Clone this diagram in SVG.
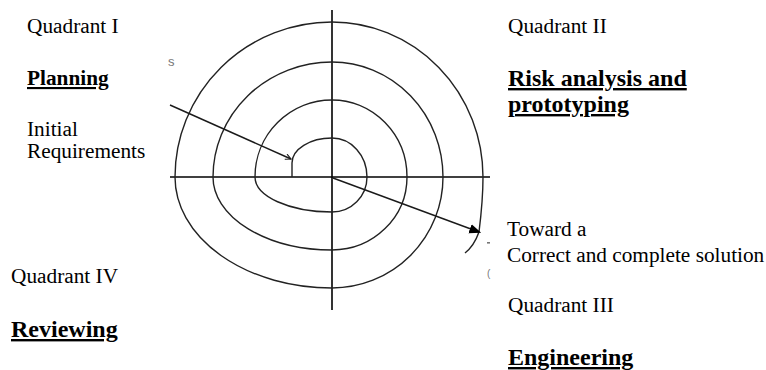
<svg xmlns="http://www.w3.org/2000/svg" width="766" height="370" viewBox="0 0 766 370">
<style>
.t{font-family:"Liberation Serif","Times New Roman",serif;font-size:21.3px;fill:#000}
.b{font-weight:bold;text-decoration:underline}
.b24{font-size:24px}
.ax{stroke:#000;stroke-width:1.6;fill:none}
.sp{stroke:#222;stroke-width:1.4;fill:none}
.ar{stroke:#1a1a1a;stroke-width:1.4;fill:none}
.frag{font-family:"Liberation Sans",Arial,sans-serif;fill:#777}
</style>
<defs>
<marker id="openArrow" viewBox="0 0 10 10" refX="9" refY="5" markerWidth="7" markerHeight="7" orient="auto" markerUnits="userSpaceOnUse">
<path d="M1,1 L9,5 L1,9" fill="none" stroke="#1a1a1a" stroke-width="1.6"/>
</marker>
<marker id="solidArrow" viewBox="0 0 10 10" refX="8" refY="5" markerWidth="12" markerHeight="12" orient="auto" markerUnits="userSpaceOnUse">
<path d="M0,1 L10,5 L0,9 Z" fill="#000"/>
</marker>
</defs>
<rect width="766" height="370" fill="#fff"/>
<g id="axes">
<line class="ax" x1="332" y1="10" x2="332" y2="310"/>
<line class="ax" x1="170" y1="177" x2="490" y2="177"/>
</g>
<g id="spiral">
<path class="sp" d="M292 177 L292 163 A40 25 0 0 1 332 138 A35 39 0 0 1 367 177 A35 35 0 0 1 332 212 A77 35 0 0 1 255 177 A77 77 0 0 1 332 100 A75 77 0 0 1 407 177 A75 73 0 0 1 332 250 A119 73 0 0 1 213 177 A119 115 0 0 1 332 62 A111 115 0 0 1 443 177 A111 111 0 0 1 332 288 A157 111 0 0 1 175 177 A157 155 0 0 1 332 22 A151 155 0 0 1 483 177 C483 200 481 216 479 232 Q474 246 465 253"/>
</g>
<g id="connectors">
<line class="ar" x1="170" y1="105" x2="291" y2="159" marker-end="url(#openArrow)"/>
<line class="ar" x1="333" y1="178" x2="479" y2="232" marker-end="url(#solidArrow)"/>
</g>
<g id="quadrant1">
<text class="t" x="27" y="33">Quadrant I</text>
<text class="t b" x="27" y="85">Planning</text>
<text class="t" x="27" y="136">Initial</text>
<text class="t" x="27" y="158">Requirements</text>
</g>
<g id="quadrant2">
<text class="t" x="508" y="33">Quadrant II</text>
<text class="t b b24" x="508" y="86">Risk analysis and</text>
<text class="t b b24" x="508" y="112">prototyping</text>
</g>
<g id="goal">
<text class="t" x="507" y="236">Toward a</text>
<text class="t" x="507" y="262">Correct and complete solution</text>
</g>
<g id="quadrant3">
<text class="t" x="508" y="312">Quadrant III</text>
<text class="t b b24" x="508" y="365">Engineering</text>
</g>
<g id="quadrant4">
<text class="t" x="11" y="283">Quadrant IV</text>
<text class="t b b24" x="11" y="337">Reviewing</text>
</g>
<g id="fragments">
<text class="frag" x="168" y="66" font-size="13">s</text>
<rect x="487" y="242" width="3" height="1.6" fill="#777"/>
<text class="frag" x="487" y="277" font-size="10">(</text>
</g>
</svg>
